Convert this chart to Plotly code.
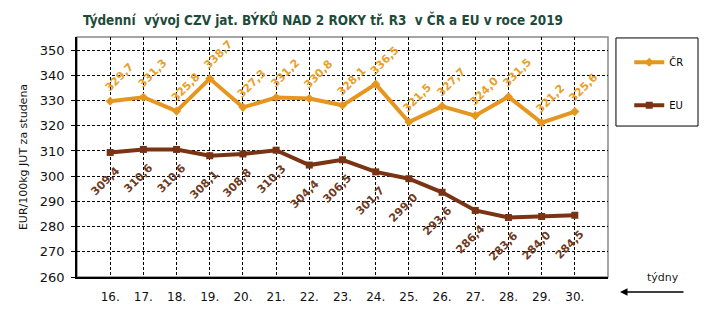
import plotly.graph_objects as go

weeks = ["16.", "17.", "18.", "19.", "20.", "21.", "22.", "23.", "24.", "25.", "26.", "27.", "28.", "29.", "30."]
cr = [329.7, 331.3, 325.8, 338.7, 327.3, 331.2, 330.8, 328.1, 336.5, 321.5, 327.7, 324.0, 331.5, 321.2, 325.6]
eu = [309.4, 310.6, 310.6, 308.1, 308.8, 310.3, 304.4, 306.5, 301.7, 299.0, 293.6, 286.4, 283.6, 284.0, 284.5]
y_ticks = [260, 270, 280, 290, 300, 310, 320, 330, 340, 350]

CR_COLOR = "#E6961E"
EU_COLOR = "#7A3414"
CR_LABEL = "#E8A02A"
EU_LABEL = "#6E3A1E"

def fmt(v):
    return f"{v:.1f}".replace(".", ",")

fig = go.Figure()
fig.add_trace(go.Scatter(x=weeks, y=cr, mode="lines+markers", name="ČR",
                         line=dict(color=CR_COLOR, width=4),
                         marker=dict(symbol="diamond", size=7, color=CR_COLOR),
                         legendgroup="cr"))
fig.add_trace(go.Scatter(x=weeks, y=eu, mode="lines+markers", name="EU",
                         line=dict(color=EU_COLOR, width=4),
                         marker=dict(symbol="square", size=7, color=EU_COLOR),
                         legendgroup="eu"))

annotations = []
for i, v in enumerate(cr):
    annotations.append(dict(x=i, y=v, xref="x", yref="y", text=fmt(v), showarrow=False,
                            textangle=-45, xanchor="center", yanchor="middle",
                            xshift=9, yshift=24,
                            font=dict(family="DejaVu Sans", size=11, color=CR_LABEL, weight="bold")))
for i, v in enumerate(eu):
    annotations.append(dict(x=i, y=v, xref="x", yref="y", text=fmt(v), showarrow=False,
                            textangle=-45, xanchor="center", yanchor="middle",
                            xshift=-5, yshift=-29,
                            font=dict(family="DejaVu Sans", size=11, color=EU_LABEL, weight="bold")))

annotations.append(dict(x=1.070, y=0.0, xref="paper", yref="paper", text="týdny", showarrow=False,
                        xanchor="left", yanchor="middle",
                        font=dict(family="DejaVu Sans", size=11, color="#222")))
annotations.append(dict(x=1.0226, y=-0.0625, xref="paper", yref="paper", text="", showarrow=True,
                        ax=65, ay=0, arrowhead=2, arrowsize=1, arrowwidth=1.5, arrowcolor="black"))

shapes = [
    dict(type="rect", xref="paper", yref="paper", x0=0, x1=1, y0=0, y1=1,
         line=dict(color="#888888", width=1.5), layer="below"),
    dict(type="rect", xref="paper", yref="paper", x0=1.015, x1=1.1695, y0=0.629, y1=0.996,
         line=dict(color="black", width=1)),
]

fig.update_layout(
    width=707, height=323,
    margin=dict(l=77, r=99, t=37, b=46),
    paper_bgcolor="white", plot_bgcolor="white",
    title=dict(text="Týdenní  vývoj CZV jat. BÝKŮ NAD 2 ROKY tř. R3  v ČR a EU v roce 2019",
               x=83 / 707, xanchor="left", y=1 - 20 / 323, yanchor="middle",
               font=dict(family="DejaVu Sans Condensed, Liberation Sans", size=13.4, color="#1d4b3a", weight="bold")),
    showlegend=True,
    legend=dict(x=1.04, xanchor="left", y=0.955, yanchor="top", bgcolor="rgba(0,0,0,0)",
                borderwidth=0, tracegroupgap=24, itemwidth=30,
                font=dict(family="DejaVu Sans", size=10, color="black")),
    annotations=annotations,
    shapes=shapes,
)

fig.update_xaxes(type="category", range=[-1, 15], showgrid=True, gridcolor="black",
                 griddash="3px,2px", gridwidth=1, showline=True, linecolor="black", linewidth=1.5,
                 ticks="", ticklabelstandoff=8, zeroline=False,
                 tickfont=dict(family="DejaVu Sans", size=12, color="#111"))
fig.update_yaxes(range=[260, 355.2], tickvals=y_ticks, showgrid=True, gridcolor="black",
                 griddash="3px,2px", gridwidth=1, showline=True, linecolor="black", linewidth=1.5,
                 ticks="outside", ticklen=4, tickcolor="black", zeroline=False,
                 ticklabelstandoff=4,
                 tickfont=dict(family="DejaVu Sans", size=13, color="#111"),
                 title=dict(text="EUR/100kg JUT za studena", standoff=10,
                            font=dict(family="DejaVu Sans", size=11, color="#111")))

fig.write_html("out.html")
